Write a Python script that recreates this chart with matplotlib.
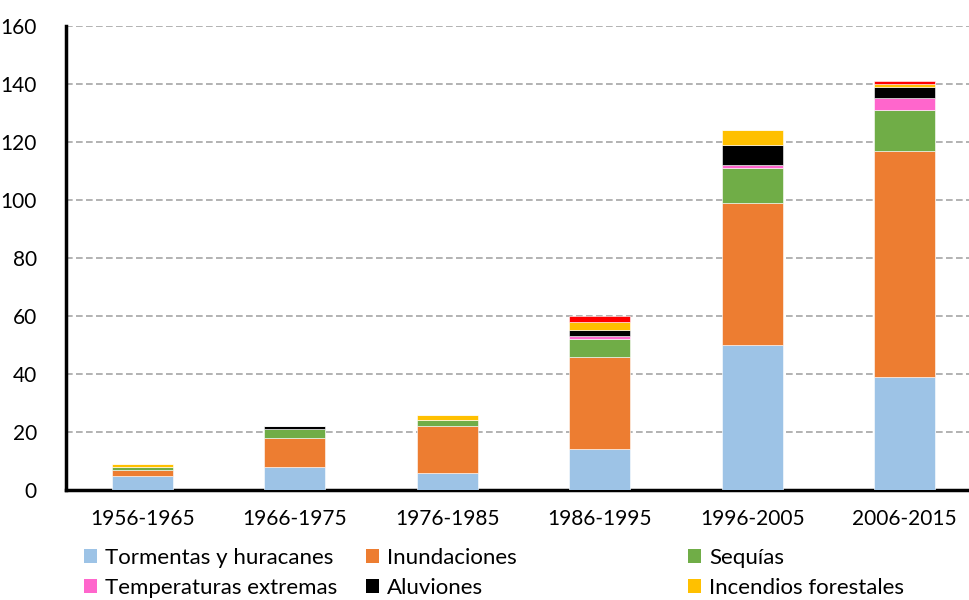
import matplotlib
matplotlib.use("Agg")
import matplotlib.pyplot as plt
import numpy as np
from matplotlib.patches import Patch

plt.rcParams['font.family'] = ['Lato', 'DejaVu Sans']

periods = ["1956-1965", "1966-1975", "1976-1985", "1986-1995", "1996-2005", "2006-2015"]

tormentas = [5, 8, 6, 14, 50, 39]
inundaciones = [2, 10, 16, 32, 49, 78]
sequias = [1, 3, 2, 6, 12, 14]
temperaturas = [0, 0, 0, 1, 1, 4]
aluviones = [0, 1, 0, 2, 7, 4]
incendios = [1, 0, 2, 3, 5, 1]
otros = [0, 0, 0, 2, 0, 1]

series = [
    ("Tormentas y huracanes", tormentas, "#9DC3E6"),
    ("Inundaciones", inundaciones, "#ED7D31"),
    ("Sequías", sequias, "#70AD47"),
    ("Temperaturas extremas", temperaturas, "#FF66CC"),
    ("Aluviones", aluviones, "#000000"),
    ("Incendios forestales", incendios, "#FFC000"),
    ("Otros", otros, "#FF0000"),
]

fig = plt.figure(figsize=(9.69, 6), dpi=100)
ax = fig.add_axes([66 / 969, 1 - 490 / 600, 1 - 66 / 969, 464 / 600])

x = np.arange(len(periods))
bottom = np.zeros(len(periods))
handles = {}
for name, vals, color in series:
    vals = np.array(vals, dtype=float)
    ax.bar(x, vals, 0.4, bottom=bottom, color=color, edgecolor="white", linewidth=0.4, zorder=3)
    handles[name] = Patch(facecolor=color, edgecolor="none")
    bottom += vals

ax.set_ylim(0, 160)
ax.set_yticks(range(0, 161, 20))
ax.set_xlim(-0.5, -0.5 + 903 / 152.5)
ax.set_xticks(x)
ax.set_xticklabels(periods)
ax.yaxis.grid(True, color="#A6A6A6", linestyle=(0, (4, 2)), linewidth=1.2, zorder=0)
ax.tick_params(axis="both", length=0, labelsize=15)
ax.tick_params(axis="y", pad=21)
ax.tick_params(axis="x", pad=14)
for s in ["top", "right"]:
    ax.spines[s].set_visible(False)
ax.spines["left"].set_linewidth(2.5)
ax.spines["bottom"].set_linewidth(2.5)

columns = [
    (["Tormentas y huracanes", "Temperaturas extremas"], 84 / 969),
    (["Inundaciones", "Aluviones"], 366 / 969),
    (["Sequías", "Incendios forestales"], 688 / 969),
]
for names, xpos in columns:
    fig.legend([handles[n] for n in names], names, loc="upper left",
               bbox_to_anchor=(xpos, 1 - 548 / 600), frameon=False, fontsize=16,
               handlelength=0.6, handleheight=0.6, handletextpad=0.35,
               labelspacing=0.45, borderaxespad=0, borderpad=0)

fig.savefig("out.png", dpi=100)
